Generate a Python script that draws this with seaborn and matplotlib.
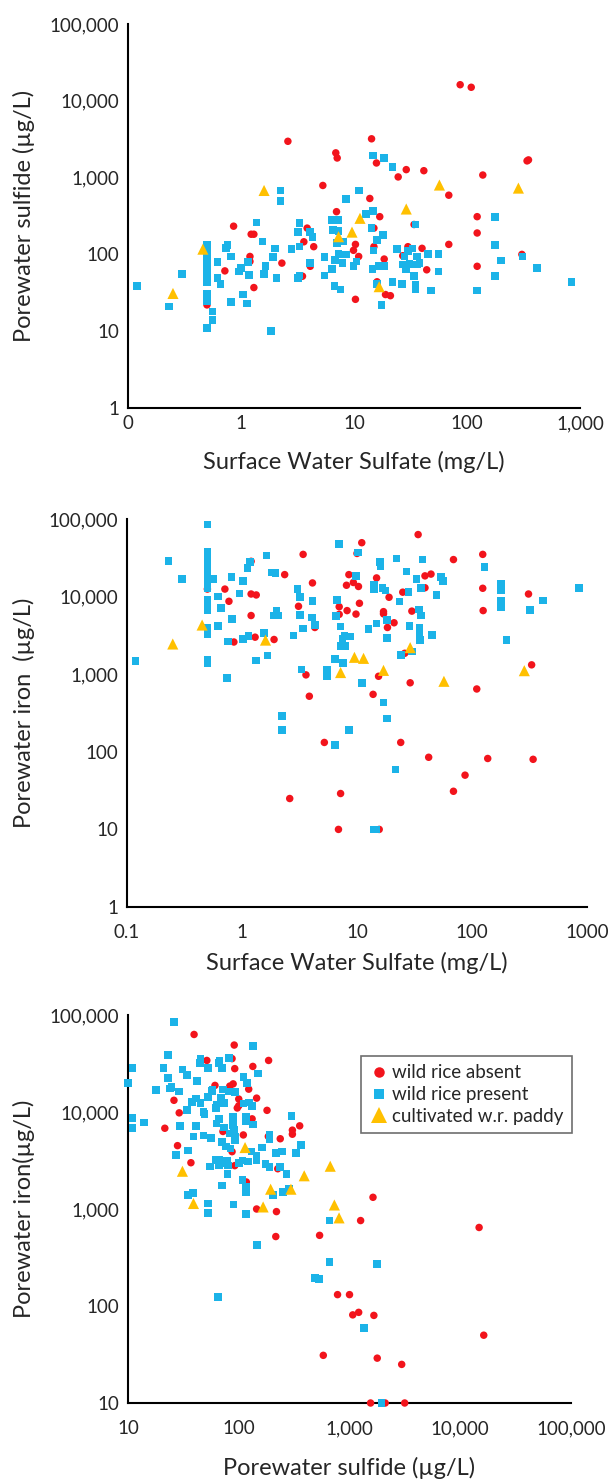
import matplotlib
matplotlib.use("Agg")
import matplotlib.pyplot as plt
from matplotlib.ticker import FixedLocator, LogLocator, NullFormatter
import pandas as pd
import seaborn as sns

# ---- panel 1: surface water sulfate (mg/L) vs porewater sulfide (ug/L)
absent1_x = [87, 109, 2.6, 14.3, 6.9, 7.1, 15.8, 29, 41.5, 24.6, 138, 340, 350, 5.3, 69, 13.8, 7.0, 16.9,
             123, 123, 0.86, 1.23, 1.3, 3.85, 3.6, 4.4, 15, 15, 69, 30, 40, 34, 0.72, 1.2, 1.2, 2.3, 4.1,
             9.9, 10.3, 11, 27, 18.5, 44, 123, 306, 1.3, 3.5, 10.3, 19, 21, 0.5, 16]
absent1_y = [16200, 15000, 2970, 3200, 2100, 1800, 1550, 1270, 1230, 1020, 1080, 1650, 1700, 790, 590, 535,
             360, 310, 310, 190, 233, 183, 183, 220, 146, 126, 220, 126, 135, 126, 120, 245, 61, 94, 81, 77,
             70, 113, 135, 94, 96, 87, 63, 70, 100, 37, 52, 26, 30, 29, 22, 44]
present1_x = [0.12, 0.23, 0.3, 0.5, 0.5, 0.5, 0.5, 0.5, 0.5, 0.5, 0.5, 0.5, 0.5, 0.5, 0.5, 0.5, 0.5,
              0.56, 0.56, 0.62, 0.62, 0.66, 0.74, 0.76, 0.82, 0.82, 0.96, 1.0, 1.04, 1.13, 1.16, 1.18, 1.37,
              1.55, 1.6, 1.65, 1.84, 1.93, 2.0, 2.06, 2.24, 2.24, 2.8, 3.2, 3.3, 3.3, 3.3, 3.2, 4.1, 4.3, 4.1,
              5.5, 5.5, 6.4, 6.5, 6.4, 6.7, 7.2, 7.3, 7.1, 7.3, 6.8, 7.6, 7.9, 8.5, 8.5, 8.1, 9.9, 10.5,
              11.1, 12.8, 14.3, 14.7, 14.7, 14.6, 14.9, 16, 16.5, 18, 18.5, 18.5, 17.5, 16, 22, 22, 24, 26.5,
              28, 29, 27, 30, 31, 33, 35, 34, 35, 35, 36, 36, 38, 45, 48, 56, 56, 123, 176, 176, 176, 200,
              310, 415, 840]
present1_y = [39, 21, 56, 133, 117, 104, 92, 81, 72, 63, 56, 49, 43, 31, 27.5, 24.4, 11,
              18, 14, 79, 49, 41, 122, 133, 94, 24, 60, 66, 30, 23, 80, 54, 260,
              147, 56, 70, 10, 93, 120, 49, 680, 500, 118, 195, 255, 126, 53, 49, 195, 170, 77,
              93, 53, 280, 208, 65, 39, 280, 200, 140, 102, 85, 35, 77, 530, 100, 147, 71, 81,
              680, 335, 220, 365, 1950, 65, 113, 155, 70, 180, 1800, 71, 22, 41, 1380, 44, 117, 41,
              94, 65, 74, 110, 75, 120, 245, 52, 35, 40, 94, 74, 77, 102, 34, 102, 60, 34, 305, 133, 52, 83,
              94, 67, 44]
paddy1_x = [0.25, 0.46, 1.6, 7.3, 9.6, 11.3, 29, 57, 285, 16.7]
paddy1_y = [31, 117, 680, 170, 195, 295, 390, 800, 730, 38]

# ---- panel 2: surface water sulfate (mg/L) vs porewater iron (ug/L)
absent2_x = [34, 11, 3.4, 124, 69, 1.2, 10, 2.35, 8.5, 39, 44, 14.8, 9.3, 4.1, 310, 124, 39, 0.71, 8.1,
             10.3, 25, 19, 1.2, 1.33, 0.77, 10.5, 7.0, 3.1, 8.2, 30, 125, 17, 17, 9.8, 1.2, 7.0, 21, 18.4,
             4.3, 1.3, 1.9, 0.85, 26, 330, 3.6, 15.4, 29, 110, 3.85, 13.8, 5.2, 24, 42, 137, 340, 87, 69,
             7.2, 2.6, 6.9, 15.6, 0.5]
absent2_y = [63000, 49500, 35000, 35000, 30000, 28500, 36000, 19200, 19200, 18500, 19500, 17400, 15200,
             15000, 10800, 12800, 13000, 12500, 14000, 13500, 11400, 9800, 10800, 10500, 8700, 8200, 7400,
             7500, 6600, 6500, 6600, 6400, 6000, 5950, 5700, 5900, 4600, 4000, 4000, 3000, 2800, 2600,
             1860, 1320, 980, 940, 775, 645, 520, 550, 132, 132, 85, 82, 80, 50, 31, 29, 25, 10, 10, 12500]
present2_x = [0.119, 0.23, 0.3, 0.5, 0.5, 0.5, 0.5, 0.5, 0.5, 0.5, 0.5, 0.5, 0.5, 0.5, 0.5, 0.5, 0.5,
              0.5, 0.5, 0.5, 0.5, 0.5, 0.5, 0.56, 0.62, 0.62, 0.66, 0.74, 0.76, 0.81, 0.82, 0.95, 1.02, 1.02,
              1.12, 1.17, 1.14, 1.33, 1.55, 1.63, 1.67, 1.8, 1.96, 1.9, 2.0, 2.05, 2.23, 2.23, 2.8, 3.05,
              3.2, 3.2, 3.3, 3.4, 4.1, 4.05, 4.3, 5.5, 5.5, 6.4, 6.4, 6.7, 6.6, 7.0, 7.2, 7.3, 7.5, 7.6, 7.8,
              7.9, 8.5, 8.7, 9.8, 10.2, 11.1, 12.6, 14.1, 14.1, 14.8, 14.8, 14, 15.8, 16, 16.6, 17, 17.7,
              18.3, 18.3, 18.3, 21.6, 22, 23.5, 24, 27, 28, 28.5, 30, 33, 34.5, 36, 36, 35, 35, 35.5, 37, 49,
              45, 54, 56, 128, 178, 178, 178, 178, 200, 320, 415, 850]
present2_y = [1480, 29000, 16800, 85000, 38000, 35000, 32000, 29000, 26000, 24000, 22000, 20000, 18000,
              16000, 14500, 13000, 9000, 7800, 6600, 4000, 3300, 1550, 1400, 16800, 10000, 4200, 7100, 900,
              2650, 17800, 5100, 11000, 16000, 2850, 23500, 28000, 3100, 1500, 3400, 34000, 1750, 20500,
              20000, 5700, 6600, 5700, 288, 192, 3150, 12500, 9800, 5800, 1150, 3900, 8800, 5400, 4300,
              1130, 930, 1580, 123, 9000, 5600, 48000, 4100, 2300, 2900, 1400, 3150, 2300, 190, 3050, 18500,
              37000, 770, 3800, 14000, 12500, 4500, 10, 10, 28000, 25000, 13000, 430, 12000, 270, 5000,
              2950, 59, 31000, 8600, 1780, 21000, 11500, 4200, 1950, 17000, 6800, 13000, 5700, 4000, 3200,
              2750, 30000, 10500, 3200, 18000, 16000, 24000, 14800, 12000, 8900, 7400, 2750, 6700, 8900,
              12800]
paddy2_x = [0.25, 0.45, 1.6, 7.2, 9.5, 11.4, 17, 29, 57, 285]
paddy2_y = [2450, 4300, 2750, 1050, 1650, 1600, 1120, 2200, 810, 1110]

# ---- panel 3: porewater sulfide (ug/L) vs porewater iron (ug/L)
absent3_x = [39.5, 91, 51.5, 87, 92, 134, 186, 61, 83, 89, 123, 26, 100, 145, 97, 100, 180, 29, 132, 21.5,
             72, 110, 185, 305, 305, 355, 237, 28, 87, 37, 92, 225, 117, 145, 219, 216, 537, 1630, 1260,
             14800, 780, 1000, 1070, 1210, 1660, 16300, 580, 1780, 2960, 1550, 2100, 3150]
absent3_y = [63000, 49000, 34000, 35500, 28000, 29500, 34000, 18800, 18500, 19500, 17200, 13200, 13600,
             13900, 11000, 11600, 10400, 9800, 8500, 6800, 6300, 5800, 5600, 6500, 5900, 7200, 5300, 4500,
             3900, 3000, 2800, 2600, 1900, 1000, 940, 520, 535, 1320, 760, 645, 131, 131, 81, 86, 80, 50,
             31, 29, 25, 10, 10, 10]
present3_x = [26, 23, 45, 44.5, 53, 66, 67, 71, 82, 135, 150, 11, 10, 21, 31, 34, 23, 42, 24.7, 24, 18, 29,
              57, 58, 72, 81, 93, 110, 118, 53, 69, 41, 38, 45, 63, 74, 62.5, 110, 124, 132, 11, 11, 14, 34,
              48, 49, 66, 89, 117, 117, 135, 300, 29.3, 41, 63, 74, 89, 91, 83, 93, 48, 39, 56, 93, 190, 190,
              365, 330, 71, 84, 77, 163, 218, 245, 27, 35, 130, 145, 145, 62, 66, 78.5, 73, 108, 100, 121,
              66, 55, 80, 174, 190, 237, 79, 270, 108, 71, 117, 117, 205, 250, 283, 35, 38.5, 53, 53, 90,
              117, 147, 65, 660, 660, 1780, 490, 530, 1350, 1950]
present3_y = [85000, 38500, 35600, 32000, 28500, 32000, 34000, 28500, 36000, 48000, 25000, 28500, 20000,
              28500, 27500, 24000, 22500, 21000, 18000, 17400, 16800, 16300, 16500, 17000, 17000, 16300,
              16000, 23000, 20000, 14300, 14100, 13800, 12600, 12400, 12000, 12400, 11000, 12200, 12500,
              11500, 8700, 6800, 7800, 10500, 10000, 9500, 8500, 8900, 9000, 8100, 7400, 9100, 7160, 7200,
              7600, 6900, 7300, 6500, 6000, 5600, 5700, 5600, 5400, 5100, 5800, 5300, 4600, 3800, 4900,
              4200, 4400, 4300, 3800, 3900, 3600, 4000, 3900, 3150, 3500, 3200, 3200, 3150, 3000, 3150,
              3000, 3100, 2800, 2750, 2800, 2900, 2700, 2700, 2300, 2300, 2000, 1750, 1700, 1500, 1400,
              1500, 1600, 1400, 1470, 1140, 910, 1110, 890, 425, 123, 760, 285, 270, 194, 190, 59, 10]
paddy3_x = [31, 39, 114, 166, 194, 296, 390, 670, 730, 805]
paddy3_y = [2450, 1140, 4300, 1050, 1600, 1600, 2200, 2760, 1100, 810]

GROUPS = ["wild rice absent", "wild rice present", "cultivated w.r. paddy"]
PALETTE = {GROUPS[0]: "#F2141C", GROUPS[1]: "#1BB3E8", GROUPS[2]: "#FFC000"}
MARKERS = {GROUPS[0]: "o", GROUPS[1]: "s", GROUPS[2]: "^"}
SIZES = {GROUPS[0]: 29, GROUPS[1]: 30, GROUPS[2]: 64}


def make_frame(series):
    parts = []
    for group, (xs, ys) in zip(GROUPS, series):
        parts.append(pd.DataFrame({"x": xs, "y": ys, "group": group}))
    return pd.concat(parts, ignore_index=True)


def style_axis(ax, xlim, ylim, xticks, xlabels, yticks, ylabels, xpad):
    ax.set_xscale("log")
    ax.set_yscale("log")
    ax.set_xlim(*xlim)
    ax.set_ylim(*ylim)
    ax.xaxis.set_major_locator(FixedLocator(xticks))
    ax.set_xticklabels(xlabels)
    ax.yaxis.set_major_locator(FixedLocator(yticks))
    ax.set_yticklabels(ylabels)
    ax.xaxis.set_minor_locator(LogLocator(base=10, subs=range(2, 10), numticks=20))
    ax.yaxis.set_minor_locator(LogLocator(base=10, subs=range(2, 10), numticks=20))
    ax.xaxis.set_minor_formatter(NullFormatter())
    ax.yaxis.set_minor_formatter(NullFormatter())
    ax.tick_params(axis="both", which="major", direction="out", length=4.5, width=1.3,
                   labelsize=13.5, color="black")
    ax.tick_params(axis="both", which="minor", direction="out", length=3, width=1.1, color="black")
    ax.tick_params(axis="x", which="major", pad=xpad)
    ax.tick_params(axis="y", which="major", pad=2)
    for side in ["top", "right"]:
        ax.spines[side].set_visible(False)
    for side in ["left", "bottom"]:
        ax.spines[side].set_linewidth(1.5)
        ax.spines[side].set_color("black")


sns.set_style("white")
plt.rcParams["font.family"] = ["Lato", "DejaVu Sans"]

fig = plt.figure(figsize=(6.11, 14.79), dpi=100)
W, H = 611.0, 1479.0


def add_axes(x0, x1, y0, y1):
    return fig.add_axes([x0 / W, 1 - y1 / H, (x1 - x0) / W, (y1 - y0) / H])


panels = [
    dict(box=(128, 580, 24, 408), data=[(absent1_x, absent1_y), (present1_x, present1_y), (paddy1_x, paddy1_y)],
         xlim=(0.1, 1000), ylim=(1, 100000),
         xticks=[0.1, 1, 10, 100, 1000], xlabels=["0", "1", "10", "100", "1,000"],
         yticks=[1, 10, 100, 1000, 10000, 100000], ylabels=["1", "10", "100", "1,000", "10,000", "100,000"],
         xlabel="Surface Water Sulfate (mg/L)", ylabel="Porewater sulfide (\u00b5g/L)",
         xpad=0.5, xlabel_off=54),
    dict(box=(127, 587, 519, 907), data=[(absent2_x, absent2_y), (present2_x, present2_y), (paddy2_x, paddy2_y)],
         xlim=(0.1, 1000), ylim=(1, 100000),
         xticks=[0.1, 1, 10, 100, 1000], xlabels=["0.1", "1", "10", "100", "1000"],
         yticks=[1, 10, 100, 1000, 10000, 100000], ylabels=["1", "10", "100", "1,000", "10,000", "100,000"],
         xlabel="Surface Water Sulfate (mg/L)", ylabel="Porewater iron  (\u00b5g/L)",
         xpad=8, xlabel_off=56),
    dict(box=(128, 571, 1015, 1403), data=[(absent3_x, absent3_y), (present3_x, present3_y), (paddy3_x, paddy3_y)],
         xlim=(10, 100000), ylim=(10, 100000),
         xticks=[10, 100, 1000, 10000, 100000], xlabels=["10", "100", "1,000", "10,000", "100,000"],
         yticks=[10, 100, 1000, 10000, 100000], ylabels=["10", "100", "1,000", "10,000", "100,000"],
         xlabel="Porewater sulfide (\u00b5g/L)", ylabel="Porewater iron(\u00b5g/L)",
         xpad=8, xlabel_off=65),
]

for i, p in enumerate(panels):
    x0, x1, y0, y1 = p["box"]
    ax = add_axes(x0, x1, y0, y1)
    df = make_frame(p["data"])
    last = i == len(panels) - 1
    sns.scatterplot(data=df, x="x", y="y", hue="group", style="group", size="group",
                    palette=PALETTE, markers=MARKERS, sizes=SIZES, hue_order=GROUPS,
                    style_order=GROUPS, size_order=GROUPS, linewidth=0, edgecolor="none",
                    clip_on=False, legend=last, ax=ax, zorder=3)
    style_axis(ax, p["xlim"], p["ylim"], p["xticks"], p["xlabels"], p["yticks"], p["ylabels"], p["xpad"])
    ax.set_xlabel(p["xlabel"], fontsize=17)
    ax.set_ylabel(p["ylabel"], fontsize=17)
    ax.xaxis.set_label_coords(0.5, -p["xlabel_off"] / (y1 - y0))
    ax.xaxis.label.set_verticalalignment("center")
    ax.yaxis.set_label_coords(-(x0 - 24) / (x1 - x0), 0.5)
    ax.yaxis.label.set_verticalalignment("center")
    if last:
        handles, labels = ax.get_legend_handles_labels()
        leg = ax.legend(handles, labels, loc="upper left", bbox_to_anchor=((361 - x0) / (x1 - x0), (y1 - 1056) / (y1 - y0)),
                        borderaxespad=0, frameon=True, fancybox=False, fontsize=13.5,
                        handletextpad=0.2, labelspacing=0.25, borderpad=0.45, handlelength=1.0,
                        markerscale=1.4)
        leg.get_frame().set_edgecolor("#4a4a4a")
        leg.get_frame().set_linewidth(1.2)

fig.savefig("out.png", dpi=100, facecolor="white")
